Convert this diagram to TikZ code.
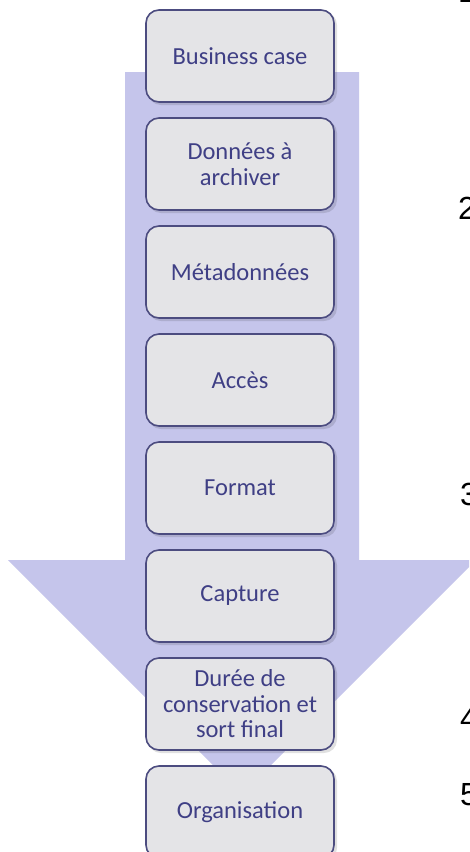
\documentclass[tikz,border=0pt]{standalone}
\usepackage{fontspec}
\setmainfont{Carlito}
\newfontfamily\numfont{Liberation Sans}
\definecolor{arrowfill}{HTML}{C5C5EB}
\definecolor{boxfill}{HTML}{E4E4E7}
\definecolor{boxline}{HTML}{4C4C80}
\definecolor{boxtext}{HTML}{3F3F85}
\tikzset{
  stepbox/.style={draw=boxline, line width=1.6pt, fill=boxfill, rounded corners=13pt,
    minimum width=188pt, minimum height=92pt, align=center, text=boxtext,
    font=\fontsize{24.5}{25.5}\selectfont, inner sep=2pt},
  boxshadow/.style={fill=black, opacity=0.12, rounded corners=13pt},
  numlabel/.style={anchor=west, inner sep=0pt, font=\numfont\fontsize{32}{32}\selectfont, text=black}
}
\begin{document}
\begin{tikzpicture}[x=1pt, y=-1pt]
\useasboundingbox (0,0) rectangle (469,852);
\clip (0,0) rectangle (469,852);
\fill[white] (0,0) rectangle (469,852);
% big arrow
\fill[arrowfill] (125,72) -- (359,72) -- (359,560) -- (476,560) -- (242,794)
  -- (8,560) -- (125,560) -- cycle;
% boxes
\foreach \k in {0,...,7}{
  \fill[boxshadow] (148,{12+108*\k}) rectangle (337,{105+108*\k});
}
\node[stepbox] (b1) at (240,56)  {Business case};
\node[stepbox] (b2) at (240,164) {Données à\\archiver};
\node[stepbox] (b3) at (240,272) {Métadonnées};
\node[stepbox] (b4) at (240,380) {Accès};
\node[stepbox] (b5) at (240,488) {Format};
\node[stepbox] (b6) at (240,596) {Capture};
\node[stepbox] (b7) at (240,704) {Durée de\\conservation et\\sort final};
\node[stepbox] (b8) at (240,812) {Organisation};
% numbers at right edge, cut off by the edge as in the reference
\node[numlabel] (n1) at (458,-9)  {1};
\node[numlabel] (n2) at (458,208) {2};
\node[numlabel] (n3) at (460,494) {3};
\node[numlabel] (n4) at (460,718) {4};
\node[numlabel] (n5) at (460,795) {5};
\end{tikzpicture}
\end{document}
